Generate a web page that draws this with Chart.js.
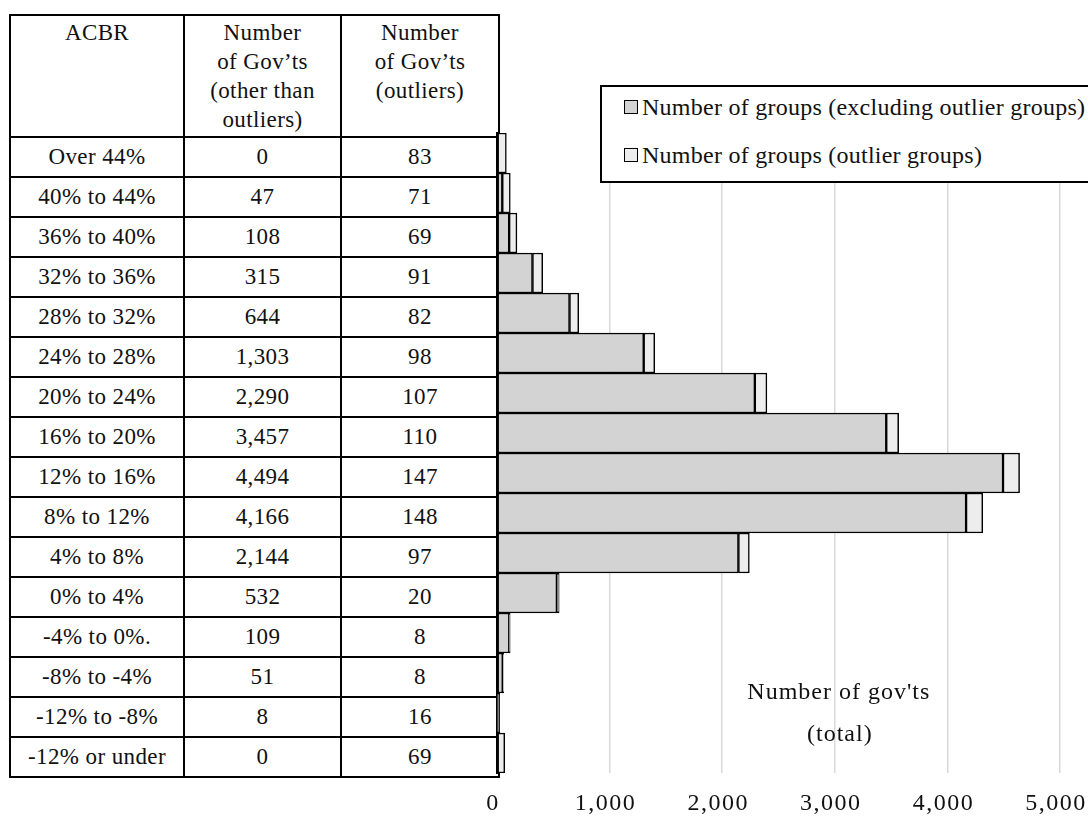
<!DOCTYPE html>
<html>
<head>
<meta charset="utf-8">
<script src="https://cdn.jsdelivr.net/npm/chart.js@4"></script>
<style>
  body { margin: 0; background: #fff; overflow: hidden; }
  #wrap { position: relative; width: 1088px; height: 816px; overflow: hidden; font-family: "Liberation Serif", serif; color: #111; }
  #acbrTable { position: absolute; left: 9px; top: 14px; border-collapse: collapse; table-layout: fixed; width: 489px; font-size: 23px; letter-spacing: 0.4px; }
  #acbrTable td, #acbrTable th { border: 2px solid #000; text-align: center; padding: 0; font-weight: normal; }
  #acbrTable th { height: 118px; vertical-align: top; line-height: 29px; padding-top: 2px; }
  #acbrTable td { height: 38px; line-height: 38px; }
  #chartBox { position: absolute; left: 440px; top: 0; width: 648px; height: 816px; }
  #legend { position: absolute; left: 600px; top: 85px; width: 600px; height: 94px; border: 2px solid #000; background: #fff; font-size: 24px; letter-spacing: 0.25px; z-index: 2; }
  #legend div { position: absolute; left: 22px; white-space: nowrap; }
  #legend span.box { display: inline-block; width: 12px; height: 12px; border: 1.5px solid #000; margin-right: 4px; vertical-align: 1px; }
</style>
</head>
<body>
<div id="wrap">
  <table id="acbrTable">
    <colgroup><col style="width:174px"><col style="width:157px"><col style="width:158px"></colgroup>
    <thead>
      <tr><th>ACBR</th><th>Number<br>of Gov’ts<br>(other than<br>outliers)</th><th>Number<br>of Gov’ts<br>(outliers)</th></tr>
    </thead>
    <tbody></tbody>
  </table>
  <div id="chartBox"><canvas id="acbrChart" width="648" height="816"></canvas></div>
  <div id="legend"></div>
</div>
<script>
const categories = ["Over 44%", "40% to 44%", "36% to 40%", "32% to 36%", "28% to 32%", "24% to 28%",
  "20% to 24%", "16% to 20%", "12% to 16%", "8% to 12%", "4% to 8%", "0% to 4%",
  "-4% to 0%.", "-8% to -4%", "-12% to -8%", "-12% or under"];
const nonOutliers = [0, 47, 108, 315, 644, 1303, 2290, 3457, 4494, 4166, 2144, 532, 109, 51, 8, 0];
const outliers = [83, 71, 69, 91, 82, 98, 107, 110, 147, 148, 97, 20, 8, 8, 16, 69];
const xTicks = [0, 1000, 2000, 3000, 4000, 5000];
const seriesNames = ["Number of groups (excluding outlier groups)", "Number of groups (outlier groups)"];
const seriesColors = ["#d3d3d3", "#ededed"];

// table on the left
const tbody = document.querySelector("#acbrTable tbody");
categories.forEach((c, i) => {
  const tr = document.createElement("tr");
  tr.innerHTML = `<td>${c}</td><td>${nonOutliers[i].toLocaleString("en-US")}</td><td>${outliers[i].toLocaleString("en-US")}</td>`;
  tbody.appendChild(tr);
});

// legend box
const legendEl = document.getElementById("legend");
seriesNames.forEach((name, i) => {
  const d = document.createElement("div");
  d.style.top = (i === 0 ? 7 : 55) + "px";
  d.innerHTML = `<span class="box" style="background:${seriesColors[i]}"></span>${name}`;
  legendEl.appendChild(d);
});

Chart.defaults.font.family = "'Liberation Serif', serif";
Chart.defaults.font.size = 24;
Chart.defaults.color = "#111";

const spacing = {
  id: "spacing",
  beforeDraw(chart) { chart.ctx.letterSpacing = "1.5px"; }
};

const totalLabel = {
  id: "totalLabel",
  afterDraw(chart) {
    const { ctx, chartArea, scales } = chart;
    const x = scales.x.getPixelForValue(3000);
    ctx.save();
    ctx.font = "24px 'Liberation Serif', serif";
    ctx.letterSpacing = "1px";
    ctx.fillStyle = "#111";
    ctx.textAlign = "center";
    ctx.textBaseline = "middle";
    ctx.fillText("Number of gov'ts", x + 4, chartArea.bottom - 80);
    ctx.fillText("(total)", x + 5, chartArea.bottom - 38);
    ctx.restore();
  }
};

new Chart(document.getElementById("acbrChart"), {
  type: "bar",
  data: {
    labels: categories,
    datasets: [
      { label: seriesNames[0], data: nonOutliers, backgroundColor: seriesColors[0], borderColor: "#000", borderWidth: 1.5, borderSkipped: false },
      { label: seriesNames[1], data: outliers, backgroundColor: seriesColors[1], borderColor: "#000", borderWidth: 1.5, borderSkipped: false }
    ]
  },
  options: {
    indexAxis: "y",
    responsive: false,
    animation: false,
    maintainAspectRatio: false,
    barPercentage: 1,
    categoryPercentage: 1,
    layout: { padding: { left: 57, right: 28, top: 133, bottom: 0 } },
    plugins: { legend: { display: false }, tooltip: { enabled: false } },
    scales: {
      x: {
        stacked: true,
        min: 0,
        max: 5000,
        afterBuildTicks: (s) => { s.ticks = xTicks.map(v => ({ value: v })); },
        afterFit: (s) => { s.height = 43; s.paddingLeft = 0; s.paddingRight = 0; },
        grid: { color: "#d9d9d9", lineWidth: 1.5, drawTicks: false },
        border: { display: false },
        ticks: { padding: 16, labelOffset: -4, callback: (v) => v.toLocaleString("en-US") }
      },
      y: {
        stacked: true,
        afterFit: (s) => { s.width = 0; s.paddingTop = 0; s.paddingBottom = 0; },
        grid: { display: false, drawTicks: false },
        border: { color: "#000", width: 2 },
        ticks: { display: false }
      }
    }
  },
  plugins: [spacing, totalLabel]
});
</script>
</body>
</html>
